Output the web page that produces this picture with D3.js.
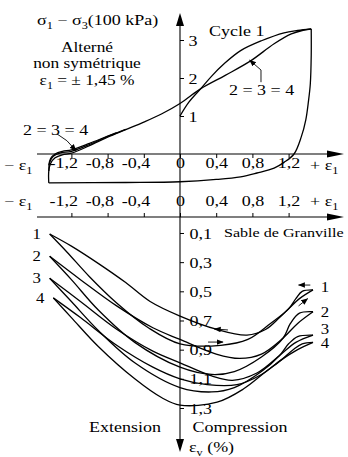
<!DOCTYPE html>
<html><head><meta charset="utf-8">
<script src="https://cdn.jsdelivr.net/npm/d3@7"></script>
<style>
html,body{margin:0;padding:0;background:#fff;}
svg{display:block;}
text{font-family:"Liberation Serif","Times New Roman",serif;fill:#000;}
</style></head><body>
<svg id="chart" width="348" height="457"></svg>
<script>
// ---- tick values ----
const epsTicks = [-1.2, -0.8, -0.4, 0, 0.4, 0.8, 1.2];
const qTicks = [1, 2, 3];
const evTicks = [0.1, 0.3, 0.5, 0.7, 0.9, 1.1, 1.3];

// ---- deviator stress q (100 kPa) vs axial strain eps1 (%) ----
const cycle1Loading = [[0,1.0],[0.1,1.37],[0.23,1.72],[0.35,2.05],[0.49,2.38],[0.67,2.72],[0.9,2.98],[1.15,3.19],[1.3,3.25],[1.45,3.29]];
const unloading = [[1.45,3.29],[1.45,2.6],[1.44,1.85],[1.42,1.4],[1.39,0.9],[1.34,0.45],[1.26,0],[1.15,-0.22],[1.04,-0.37],[0.85,-0.5],[0.67,-0.6],[0.4,-0.67],[0,-0.73],[-0.6,-0.75],[-1.45,-0.76]];
const reloading = [[-1.45,-0.76],[-1.45,-0.45],[-1.43,-0.25],[-1.38,-0.1],[-1.3,-0.02],[-1.2,0.02],[-1.0,0.22],[-0.8,0.44],[-0.6,0.64],[-0.4,0.84],[-0.2,1.06],[0,1.33],[0.23,1.72],[0.5,2.07],[0.78,2.45],[1.04,2.9],[1.23,3.16],[1.35,3.25],[1.45,3.29]];
const reloadingB = [[-1.45,-0.45],[-1.44,-0.22],[-1.4,-0.06],[-1.32,0.03],[-1.2,0.07],[-1.0,0.25],[-0.8,0.46],[-0.6,0.65]];
const reloadingC = [[-1.45,-0.3],[-1.43,-0.12],[-1.38,0.0],[-1.3,0.07],[-1.2,0.11],[-1.0,0.28],[-0.8,0.47],[-0.7,0.56]];

// ---- volumetric strain eps_v (%) vs eps1 (%), cycles 1..4 ----
const cycleLabels = ["1", "2", "3", "4"];
const evBranchA = [
  [[-1.44,0.107],[-1.2,0.19],[-0.9,0.31],[-0.6,0.44],[-0.33,0.57],[0,0.67],[0.4,0.76],[0.74,0.80],[0.95,0.76],[1.1,0.68],[1.2,0.62],[1.32,0.55],[1.47,0.49]],
  [[-1.44,0.26],[-1.1,0.42],[-0.7,0.6],[-0.3,0.75],[0,0.83],[0.4,0.93],[0.66,0.96],[0.9,0.93],[1.14,0.82],[1.3,0.72],[1.47,0.64]],
  [[-1.44,0.41],[-1.1,0.57],[-0.7,0.76],[-0.3,0.91],[0,0.99],[0.35,1.08],[0.58,1.11],[0.85,1.06],[1.1,0.94],[1.28,0.85],[1.47,0.8]],
  [[-1.40,0.545],[-1.1,0.68],[-0.7,0.87],[-0.3,1.02],[0,1.1],[0.3,1.14],[0.63,1.14],[0.9,1.07],[1.12,0.97],[1.3,0.9],[1.47,0.85]]
];
const evBranchB = [
  [[-1.44,0.107],[-1.25,0.23],[-1.0,0.4],[-0.7,0.58],[-0.35,0.75],[0,0.86],[0.45,0.87],[0.75,0.83],[1.0,0.72],[1.2,0.62],[1.28,0.55],[1.35,0.5],[1.47,0.49]],
  [[-1.44,0.26],[-1.2,0.42],[-0.9,0.63],[-0.5,0.85],[0,1.02],[0.35,1.07],[0.6,1.05],[0.9,0.95],[1.14,0.82],[1.22,0.72],[1.32,0.65],[1.47,0.64]],
  [[-1.44,0.41],[-1.2,0.57],[-0.9,0.77],[-0.5,0.99],[0,1.16],[0.35,1.19],[0.6,1.16],[0.9,1.05],[1.1,0.94],[1.2,0.86],[1.3,0.81],[1.47,0.8]],
  [[-1.40,0.545],[-1.2,0.68],[-0.9,0.88],[-0.5,1.1],[-0.2,1.23],[0,1.28],[0.41,1.26],[0.7,1.17],[0.95,1.05],[1.12,0.97],[1.25,0.9],[1.35,0.86],[1.47,0.85]]
];
// direction arrows along the volumetric curves: [from, to]
const evArrows = [
  [[1.44,0.457],[1.31,0.457]],
  [[1.31,0.60],[1.41,0.55]],
  [[0.53,0.765],[0.38,0.758]],
  [[0.31,0.848],[0.475,0.848]]
];

const svg = d3.select("#chart");
const FS = 15, SX = 1.2;

const x = d3.scaleLinear().domain([0, 1]).range([180, 270.5]);
const yQ = d3.scaleLinear().domain([0, 3]).range([154, 40]);
const yV = d3.scaleLinear().domain([0, 1.3]).range([218.4, 408]);

// arrow marker for pointers
const defs = svg.append("defs");
defs.append("marker").attr("id", "ah").attr("viewBox", "0 0 10 10")
  .attr("refX", 9).attr("refY", 5).attr("markerWidth", 7).attr("markerHeight", 7)
  .attr("markerUnits", "userSpaceOnUse").attr("orient", "auto")
  .append("path").attr("d", "M0,1 L10,5 L0,9 Z").attr("fill", "#000");

function label(px, py, parts, anchor = "start", size = FS) {
  const t = svg.append("text")
    .attr("transform", `translate(${px},${py}) scale(${SX},1)`)
    .attr("text-anchor", anchor).attr("font-size", size);
  let shifted = false;
  parts.forEach(p => {
    if (Array.isArray(p)) {
      t.append("tspan").attr("font-size", size * 0.68).attr("dy", shifted ? 0 : 4).text(p[0]);
      shifted = true;
    } else {
      t.append("tspan").attr("dy", shifted ? -4 : 0).text(p);
      shifted = false;
    }
  });
  return t;
}

// ---- axes lines with arrowheads ----
const axisG = svg.append("g").attr("stroke", "#000").attr("stroke-width", 1.1);
axisG.append("line").attr("x1", 37).attr("x2", 330).attr("y1", yQ(0)).attr("y2", yQ(0));
axisG.append("line").attr("x1", 37).attr("x2", 330).attr("y1", yV(0) - 1.4).attr("y2", yV(0) - 1.4);
axisG.append("line").attr("x1", x(0)).attr("x2", x(0)).attr("y1", 24).attr("y2", 442);
const tri = (pts) => svg.append("path").attr("d", "M" + pts.map(p => p.join(",")).join("L") + "Z").attr("fill", "#000");
tri([[344, yQ(0)], [327, yQ(0) - 3.5], [327, yQ(0) + 3.5]]);
tri([[344, yV(0) - 1.4], [327, yV(0) - 4.9], [327, yV(0) + 2.1]]);
tri([[x(0), 13], [x(0) - 4, 26], [x(0) + 4, 26]]);
tri([[x(0), 452], [x(0) - 4, 439], [x(0) + 4, 439]]);

// ---- eps1 axes (top: ticks down, bottom: ticks up) ----
const decFmt = d => d === 0 ? "0" : d3.format(".1f")(d).replace(".", ",").replace("−", "-");
function epsAxis(yPos, size, labelY) {
  const g = svg.append("g").attr("transform", `translate(0,${yPos})`)
    .call(d3.axisBottom(x).tickValues(epsTicks).tickSize(size).tickFormat(decFmt));
  g.select(".domain").remove();
  g.selectAll(".tick line").attr("stroke", "#000").attr("stroke-width", 1);
  g.selectAll(".tick text")
    .attr("y", labelY).attr("dy", 0)
    .attr("font-size", FS).attr("font-family", '"Liberation Serif",serif').attr("fill", "#000")
    .attr("text-anchor", d => d < 0 ? "end" : "middle")
    .attr("x", d => d < 0 ? 5 : 0)
    .attr("transform", `scale(${SX},1)`);
  return g;
}
epsAxis(yQ(0), 4, 14);
epsAxis(yV(0) - 1.4, -4, -11);

label(4, 170, ["− ε", ["1"]]);
label(310, 170, ["+ ε", ["1"]]);
label(4, 206, ["− ε", ["1"]]);
label(310, 206, ["+ ε", ["1"]]);

// ---- q axis ----
const qAxis = svg.append("g").attr("transform", `translate(${x(0)},0)`)
  .call(d3.axisRight(yQ).tickValues(qTicks).tickSize(4).tickPadding(3).tickFormat(d3.format("d")));
qAxis.select(".domain").remove();
qAxis.selectAll(".tick line").attr("stroke", "#000");
qAxis.selectAll(".tick text").attr("font-size", FS).attr("font-family", '"Liberation Serif",serif')
  .attr("fill", "#000").attr("transform", `scale(${SX},1)`).attr("dy", "0.34em");

// ---- eps_v axis ----
const vAxis = svg.append("g").attr("transform", `translate(${x(0)},0)`)
  .call(d3.axisRight(yV).tickValues(evTicks).tickSize(4).tickPadding(4).tickFormat(decFmt));
vAxis.select(".domain").remove();
vAxis.selectAll(".tick line").attr("stroke", "#000");
vAxis.selectAll(".tick text").attr("font-size", FS).attr("font-family", '"Liberation Serif",serif')
  .attr("fill", "#000").attr("transform", `scale(${SX},1)`).attr("dy", "0.34em");

// ---- curves ----
const curve = d3.curveCatmullRom.alpha(0.5);
const lineQ = d3.line().x(d => x(d[0])).y(d => yQ(d[1])).curve(curve);
const lineV = d3.line().x(d => x(d[0])).y(d => yV(d[1])).curve(curve);
const curves = svg.append("g").attr("fill", "none").attr("stroke", "#000").attr("stroke-width", 1.3);
[cycle1Loading, unloading, reloading, reloadingB, reloadingC].forEach(d => curves.append("path").attr("d", lineQ(d)));
evBranchA.forEach(d => curves.append("path").attr("d", lineV(d)));
evBranchB.forEach(d => curves.append("path").attr("d", lineV(d)));

// direction arrows
evArrows.forEach(([a, b]) => svg.append("line")
  .attr("x1", x(a[0])).attr("y1", yV(a[1])).attr("x2", x(b[0])).attr("y2", yV(b[1]))
  .attr("stroke", "#000").attr("stroke-width", 0.9).attr("marker-end", "url(#ah)"));

// cycle numbers at both ends of each loop
const rightLabelY = [292, 317, 334, 348];
evBranchA.forEach((d, i) => {
  const left = d[0], right = d[d.length - 1];
  label(x(left[0]) - 13, yV(left[1]) + 5, [cycleLabels[i]], "middle", 14);
  label(x(right[0]) + 12, rightLabelY[i], [cycleLabels[i]], "middle", 14);
});

// ---- pointers "2 = 3 = 4" ----
const ptrLine = d3.line().x(d => x(d[0])).y(d => yQ(d[1]));
svg.append("path").attr("d", ptrLine([[0.895, 1.89], [0.895, 2.21], [0.77, 2.47]]))
  .attr("fill", "none").attr("stroke", "#000").attr("stroke-width", 0.9).attr("marker-end", "url(#ah)");
svg.append("path").attr("d", ptrLine([[-1.36, 0.53], [-1.25, 0.35], [-1.15, 0.09]]))
  .attr("fill", "none").attr("stroke", "#000").attr("stroke-width", 0.9).attr("marker-end", "url(#ah)");

// ---- texts ----
label(37, 25, ["σ", ["1"], " − σ", ["3"], "(100 kPa)"]);
label(87, 52, ["Alterné"], "middle", 14.5);
label(87, 68, ["non symétrique"], "middle", 14.5);
label(87, 85, ["ε", ["1"], " =  ± 1,45 %"], "middle", 14.5);
label(209, 36, ["Cycle 1"]);
label(229, 95, ["2 = 3 = 4"]);
label(23, 135, ["2 = 3 = 4"]);
label(224, 237, ["Sable de Granville"], "start", 13.4);
label(125, 432, ["Extension"], "middle");
label(240, 432, ["Compression"], "middle");
label(189, 452, ["ε", ["v"], " (%)"]);
</script>
</body></html>
